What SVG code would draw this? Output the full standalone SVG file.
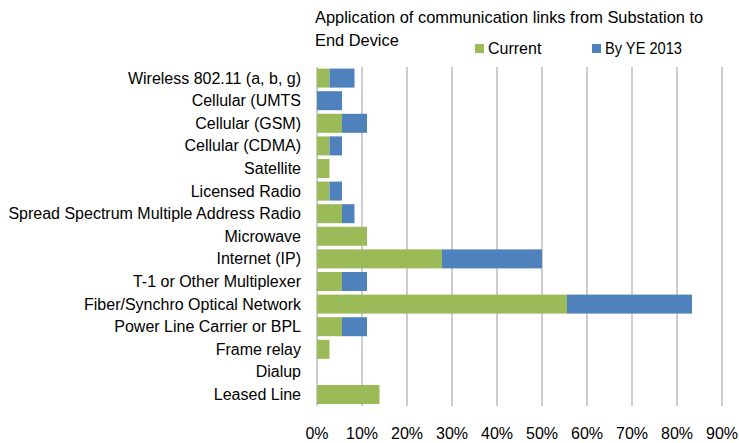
<svg xmlns="http://www.w3.org/2000/svg" width="739" height="443" viewBox="0 0 739 443">
  <style>
    text { font-family: "Liberation Sans", Arial, sans-serif; font-size: 16px; fill: #000; }
    .title { font-size: 16.4px; }
    .lbl { text-anchor: end; }
    .tick { text-anchor: middle; }
    .grid { stroke: #BDBDBD; stroke-width: 1.5; }
    .cur { fill: #9BBB59; }
    .ye { fill: #4F81BD; }
  </style>

  <!-- title and legend -->
  <g id="title">
    <text class="title" x="315" y="23">Application of communication links from Substation to</text>
    <text class="title" x="315" y="46">End Device</text>
  </g>
  <g id="legend">
    <rect class="cur" x="475" y="44" width="9" height="9"/>
    <text x="488" y="54">Current</text>
    <rect class="ye" x="592" y="44" width="9" height="9"/>
    <text x="605" y="54" textLength="77" lengthAdjust="spacingAndGlyphs">By YE 2013</text>
  </g>

  <!-- vertical gridlines, 4.5 px per percent, 0% at x=317 -->
  <g id="gridlines">
    <line class="grid" x1="317" y1="67" x2="317" y2="406"/>
    <line class="grid" x1="362" y1="67" x2="362" y2="406"/>
    <line class="grid" x1="407" y1="67" x2="407" y2="406"/>
    <line class="grid" x1="452" y1="67" x2="452" y2="406"/>
    <line class="grid" x1="497" y1="67" x2="497" y2="406"/>
    <line class="grid" x1="542" y1="67" x2="542" y2="406"/>
    <line class="grid" x1="587" y1="67" x2="587" y2="406"/>
    <line class="grid" x1="632" y1="67" x2="632" y2="406"/>
    <line class="grid" x1="677" y1="67" x2="677" y2="406"/>
    <line class="grid" x1="722" y1="67" x2="722" y2="406"/>
  </g>

  <!-- x axis labels -->
  <g id="x-axis">
    <text class="tick" x="317" y="439">0%</text>
    <text class="tick" x="362" y="439">10%</text>
    <text class="tick" x="407" y="439">20%</text>
    <text class="tick" x="452" y="439">30%</text>
    <text class="tick" x="497" y="439">40%</text>
    <text class="tick" x="542" y="439">50%</text>
    <text class="tick" x="587" y="439">60%</text>
    <text class="tick" x="632" y="439">70%</text>
    <text class="tick" x="677" y="439">80%</text>
    <text class="tick" x="722" y="439">90%</text>
  </g>

  <!-- category rows: pitch 22.6 px, bar height 19 -->
  <g id="wireless">
    <text class="lbl" x="301" y="84">Wireless 802.11 (a, b, g)</text>
    <rect class="cur" x="317" y="68.6" width="12.5" height="19"/>
    <rect class="ye" x="329.5" y="68.6" width="25" height="19"/>
  </g>
  <g id="umts">
    <text class="lbl" x="301" y="106">Cellular (UMTS</text>
    <rect class="ye" x="317" y="91.2" width="25" height="19"/>
  </g>
  <g id="gsm">
    <text class="lbl" x="301" y="129">Cellular (GSM)</text>
    <rect class="cur" x="317" y="113.8" width="25" height="19"/>
    <rect class="ye" x="342" y="113.8" width="25" height="19"/>
  </g>
  <g id="cdma">
    <text class="lbl" x="301" y="151">Cellular (CDMA)</text>
    <rect class="cur" x="317" y="136.4" width="12.5" height="19"/>
    <rect class="ye" x="329.5" y="136.4" width="12.5" height="19"/>
  </g>
  <g id="satellite">
    <text class="lbl" x="301" y="174">Satellite</text>
    <rect class="cur" x="317" y="159" width="12.5" height="19"/>
  </g>
  <g id="licensed-radio">
    <text class="lbl" x="301" y="197">Licensed Radio</text>
    <rect class="cur" x="317" y="181.6" width="12.5" height="19"/>
    <rect class="ye" x="329.5" y="181.6" width="12.5" height="19"/>
  </g>
  <g id="spread-spectrum">
    <text class="lbl" x="301" y="219">Spread Spectrum Multiple Address Radio</text>
    <rect class="cur" x="317" y="204.2" width="25" height="19"/>
    <rect class="ye" x="342" y="204.2" width="12.5" height="19"/>
  </g>
  <g id="microwave">
    <text class="lbl" x="301" y="242">Microwave</text>
    <rect class="cur" x="317" y="226.8" width="50" height="19"/>
  </g>
  <g id="internet">
    <text class="lbl" x="301" y="264">Internet (IP)</text>
    <rect class="cur" x="317" y="249.4" width="125" height="19"/>
    <rect class="ye" x="442" y="249.4" width="100" height="19"/>
  </g>
  <g id="t1">
    <text class="lbl" x="301" y="287">T-1 or Other Multiplexer</text>
    <rect class="cur" x="317" y="272" width="25" height="19"/>
    <rect class="ye" x="342" y="272" width="25" height="19"/>
  </g>
  <g id="fiber">
    <text class="lbl" x="301" y="310">Fiber/Synchro Optical Network</text>
    <rect class="cur" x="317" y="294.6" width="250" height="19"/>
    <rect class="ye" x="567" y="294.6" width="125" height="19"/>
  </g>
  <g id="power-line">
    <text class="lbl" x="301" y="332">Power Line Carrier or BPL</text>
    <rect class="cur" x="317" y="317.2" width="25" height="19"/>
    <rect class="ye" x="342" y="317.2" width="25" height="19"/>
  </g>
  <g id="frame-relay">
    <text class="lbl" x="301" y="355">Frame relay</text>
    <rect class="cur" x="317" y="339.8" width="12.5" height="19"/>
  </g>
  <g id="dialup">
    <text class="lbl" x="301" y="377">Dialup</text>
  </g>
  <g id="leased-line">
    <text class="lbl" x="301" y="400">Leased Line</text>
    <rect class="cur" x="317" y="385" width="62.5" height="19"/>
  </g>

  <g id="connectors"/>
</svg>
